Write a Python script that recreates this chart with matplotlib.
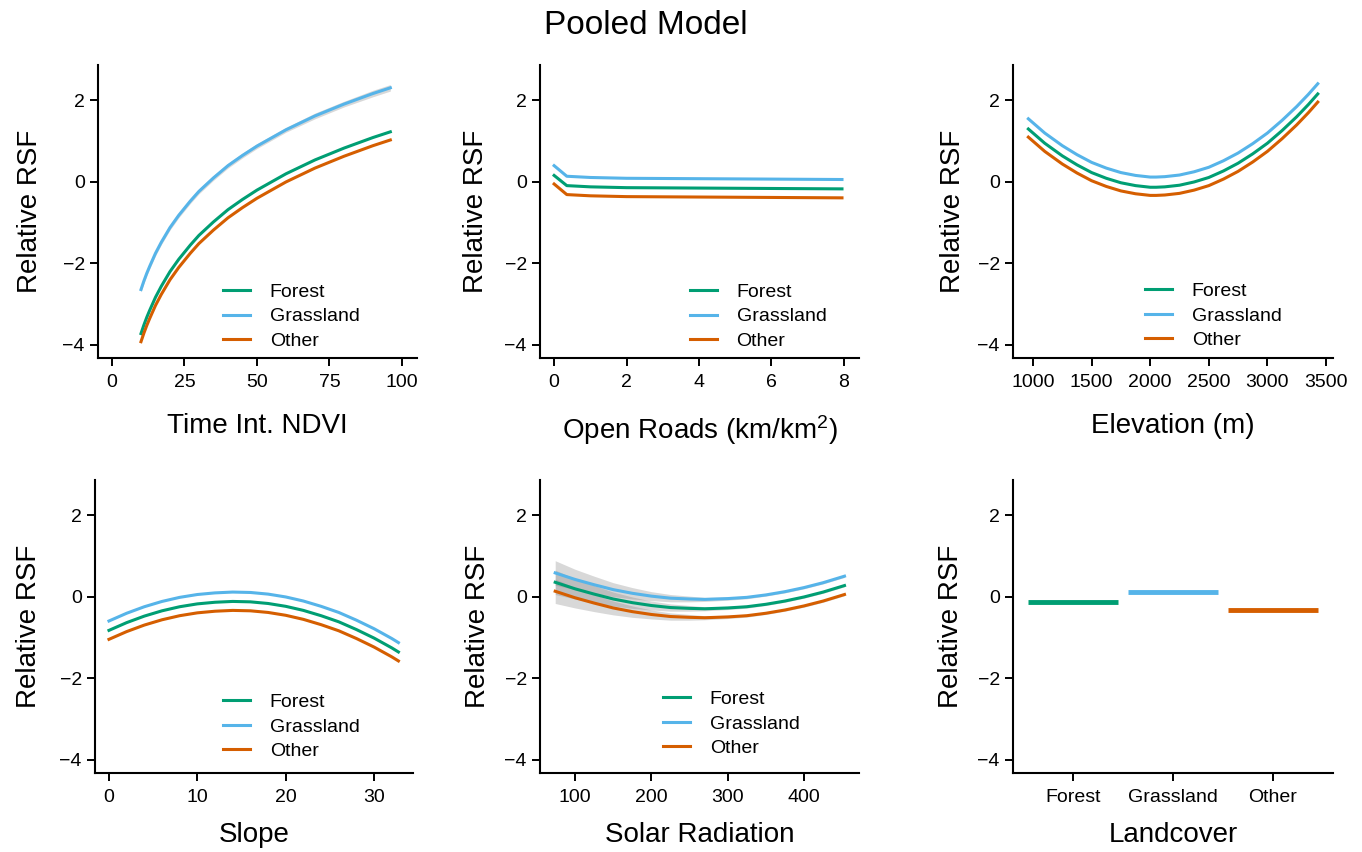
import numpy as np
import matplotlib
matplotlib.use("Agg")
import matplotlib.pyplot as plt

plt.rcParams['font.family'] = ['Liberation Sans', 'DejaVu Sans']
plt.rcParams['mathtext.fontset'] = 'custom'
plt.rcParams['mathtext.rm'] = 'Liberation Sans'
plt.rcParams['mathtext.default'] = 'regular'

landcover = ['Forest', 'Grassland', 'Other']
colors = ['#009E73', '#56B4E9', '#D55E00']

# Time integrated NDVI
ndvi_x = [10, 11, 12, 13, 15, 17, 20, 23, 27, 30, 35, 40, 45, 50, 60, 70, 80, 90, 96]
ndvi_forest = [-3.73, -3.52, -3.33, -3.16, -2.84, -2.57, -2.21, -1.91, -1.56, -1.32, -0.99, -0.69,
               -0.44, -0.21, 0.19, 0.53, 0.82, 1.08, 1.22]
ndvi_grass = [-2.65, -2.44, -2.25, -2.08, -1.76, -1.49, -1.13, -0.83, -0.48, -0.24, 0.09, 0.39,
              0.64, 0.87, 1.27, 1.61, 1.90, 2.16, 2.30]
ndvi_other = [-3.93, -3.72, -3.53, -3.36, -3.04, -2.77, -2.41, -2.11, -1.76, -1.52, -1.19, -0.89,
              -0.64, -0.41, -0.01, 0.33, 0.62, 0.88, 1.02]
ndvi_grass_se = [0.06, 0.06, 0.06, 0.06, 0.06, 0.06, 0.06, 0.06, 0.06, 0.06, 0.06, 0.06,
                 0.06, 0.06, 0.06, 0.07, 0.07, 0.08, 0.08]

# Open roads
roads_x = [0, 0.35, 1, 2, 4, 6, 7.95]
roads_forest = [0.15, -0.10, -0.13, -0.15, -0.16, -0.17, -0.18]
roads_grass = [0.39, 0.13, 0.10, 0.08, 0.07, 0.06, 0.05]
roads_other = [-0.06, -0.32, -0.35, -0.37, -0.38, -0.39, -0.40]

# Elevation
elev_x = [960, 1100, 1250, 1375, 1500, 1625, 1750, 1875, 2000, 2050, 2125, 2250, 2375, 2500,
          2625, 2750, 2875, 3000, 3125, 3250, 3350, 3430]
elev_forest = [1.29, 0.94, 0.63, 0.41, 0.22, 0.08, -0.03, -0.10, -0.14, -0.14, -0.13, -0.09,
               -0.01, 0.10, 0.26, 0.45, 0.68, 0.94, 1.25, 1.59, 1.89, 2.15]
elev_grass = [1.54, 1.19, 0.88, 0.66, 0.47, 0.33, 0.22, 0.15, 0.11, 0.11, 0.12, 0.16,
              0.24, 0.35, 0.51, 0.70, 0.93, 1.19, 1.50, 1.84, 2.14, 2.40]
elev_other = [1.09, 0.74, 0.43, 0.21, 0.02, -0.12, -0.23, -0.30, -0.34, -0.34, -0.33, -0.29,
              -0.21, -0.10, 0.06, 0.25, 0.48, 0.74, 1.05, 1.39, 1.69, 1.95]

# Slope
slope_x = [0, 2, 4, 6, 8, 10, 12, 14, 16, 18, 20, 22, 24, 26, 28, 30, 32, 32.75]
slope_forest = [-0.83, -0.64, -0.48, -0.35, -0.25, -0.18, -0.14, -0.12, -0.13, -0.17, -0.24,
                -0.34, -0.47, -0.62, -0.81, -1.02, -1.26, -1.36]
slope_grass = [-0.60, -0.41, -0.25, -0.12, -0.02, 0.05, 0.09, 0.11, 0.10, 0.06, -0.01,
               -0.11, -0.24, -0.39, -0.58, -0.79, -1.03, -1.13]
slope_other = [-1.05, -0.86, -0.70, -0.57, -0.47, -0.40, -0.36, -0.34, -0.35, -0.39, -0.46,
               -0.56, -0.69, -0.84, -1.03, -1.24, -1.48, -1.58]

# Solar radiation
solar_x = [74, 100, 125, 150, 175, 200, 225, 250, 270, 300, 325, 350, 375, 400, 425, 453]
solar_forest = [0.35, 0.19, 0.06, -0.06, -0.15, -0.22, -0.27, -0.29, -0.30, -0.28, -0.25,
                -0.19, -0.11, -0.01, 0.11, 0.27]
solar_grass = [0.58, 0.42, 0.29, 0.17, 0.08, 0.01, -0.04, -0.06, -0.07, -0.05, -0.02,
               0.04, 0.12, 0.22, 0.34, 0.50]
solar_other = [0.13, -0.03, -0.16, -0.28, -0.37, -0.44, -0.49, -0.51, -0.52, -0.50, -0.47,
               -0.41, -0.33, -0.23, -0.11, 0.05]
solar_se = [0.30, 0.25, 0.21, 0.17, 0.14, 0.11, 0.09, 0.07, 0.05, 0.04, 0.035, 0.03, 0.03,
            0.03, 0.03, 0.03]

# Landcover
lc_values = [-0.13, 0.11, -0.34]

W, H = 1362, 852
fig = plt.figure(figsize=(W / 100, H / 100), dpi=100)


def make_axes(left, right, top, bottom):
    ax = fig.add_axes([left / W, 1 - bottom / H, (right - left) / W, (bottom - top) / H])
    for s in ['top', 'right']:
        ax.spines[s].set_visible(False)
    for s in ['left', 'bottom']:
        ax.spines[s].set_linewidth(1.5)
    ax.tick_params(axis='both', length=5.5, width=1.4, labelsize=14, colors='black')
    ax.tick_params(axis='x', pad=6)
    ax.tick_params(axis='y', pad=4)
    ax.set_ylim(-4.33, 2.86)
    ax.set_yticks([-4, -2, 0, 2])
    ax.set_ylabel('Relative RSF', fontsize=20)
    return ax


def add_legend(ax, x, y):
    ax.legend(loc='center left', bbox_to_anchor=(x, y), frameon=False, fontsize=14,
              handlelength=1.4, handletextpad=1.0, labelspacing=0.36, borderpad=0,
              borderaxespad=0)


def draw_lines(ax, x, series):
    for name, ys, c in zip(landcover, series, colors):
        ax.plot(x, ys, color=c, lw=2.2, label=name)


# Panel 1
ax1 = make_axes(98, 417, 65, 358)
ax1.fill_between(ndvi_x, np.array(ndvi_grass) - np.array(ndvi_grass_se),
                 np.array(ndvi_grass) + np.array(ndvi_grass_se), color='grey', alpha=0.3, lw=0)
draw_lines(ax1, ndvi_x, [ndvi_forest, ndvi_grass, ndvi_other])
ax1.set_xlim(-4.83, 105.2)
ax1.set_xticks([0, 25, 50, 75, 100])
ax1.set_xlabel('Time Int. NDVI', fontsize=20)
add_legend(ax1, 0.392, 0.141)

# Panel 2
ax2 = make_axes(540, 859, 65, 358)
draw_lines(ax2, roads_x, [roads_forest, roads_grass, roads_other])
ax2.set_xlim(-0.39, 8.42)
ax2.set_xticks([0, 2, 4, 6, 8])
ax2.set_xlabel('Open Roads (km/km$^{2}$)', fontsize=20)
add_legend(ax2, 0.470, 0.141)

# Panel 3
ax3 = make_axes(1013, 1333, 65, 358)
draw_lines(ax3, elev_x, [elev_forest, elev_grass, elev_other])
ax3.set_xlim(829, 3560)
ax3.set_xticks([1000, 1500, 2000, 2500, 3000, 3500])
ax3.set_xlabel('Elevation (m)', fontsize=20)
add_legend(ax3, 0.4125, 0.144)

# Panel 4
ax4 = make_axes(95, 413, 480, 773)
draw_lines(ax4, slope_x, [slope_forest, slope_grass, slope_other])
ax4.set_xlim(-1.58, 34.4)
ax4.set_xticks([0, 10, 20, 30])
ax4.set_xlabel('Slope', fontsize=20)
add_legend(ax4, 0.4025, 0.158)

# Panel 5
ax5 = make_axes(540, 859, 480, 773)
se = np.array(solar_se)
for ys in [solar_forest, solar_grass, solar_other]:
    ys = np.array(ys)
    ax5.fill_between(solar_x, ys - se, ys + se, color='grey', alpha=0.3, lw=0)
draw_lines(ax5, solar_x, [solar_forest, solar_grass, solar_other])
ax5.set_xlim(54.1, 472)
ax5.set_xticks([100, 200, 300, 400])
ax5.set_xlabel('Solar Radiation', fontsize=20)
add_legend(ax5, 0.386, 0.168)

# Panel 6
ax6 = make_axes(1013, 1333, 480, 773)
pos = np.arange(1, len(landcover) + 1)
for p, v, c in zip(pos, lc_values, colors):
    ax6.hlines(v, p - 0.45, p + 0.45, color=c, lw=3.5)
ax6.set_xlim(0.4, 3.6)
ax6.set_xticks(pos)
ax6.set_xticklabels(landcover)
ax6.set_xlabel('Landcover', fontsize=20)

# label positions
for ax, yl in [(ax1, -0.172), (ax2, -0.16), (ax3, -0.147), (ax4, -0.167), (ax5, -0.154), (ax6, -0.153)]:
    ax.yaxis.set_label_coords(yl, 0.5)
for ax in [ax1, ax2, ax3]:
    ax.xaxis.set_label_coords(0.5, -0.188)
for ax in [ax4, ax5, ax6]:
    ax.xaxis.set_label_coords(0.5, -0.167)

fig.text(646 / W, 1 - 25 / H, 'Pooled Model', ha='center', va='center', fontsize=24)

fig.savefig('out.png', dpi=100)
